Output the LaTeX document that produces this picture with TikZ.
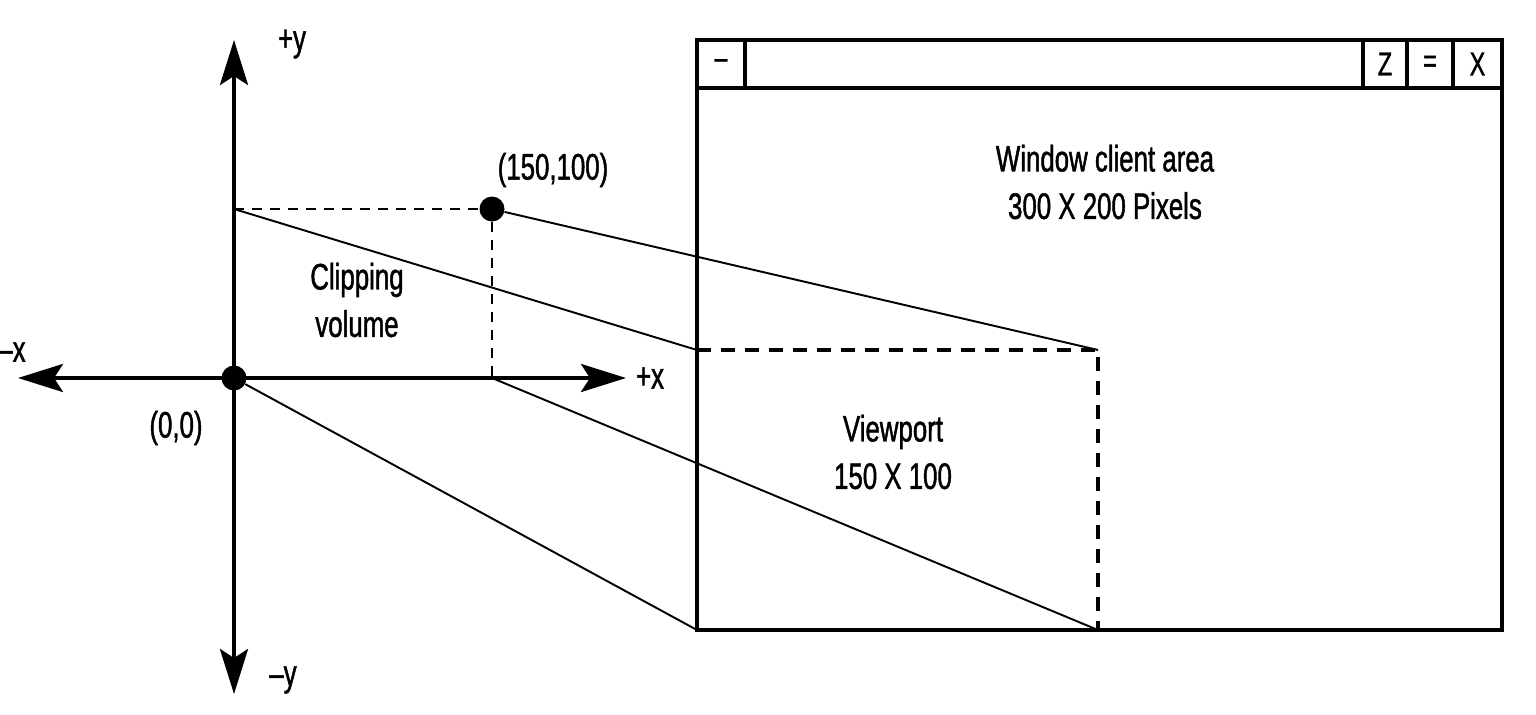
\documentclass[tikz,border=0pt]{standalone}
\usepackage{fontspec}
\setmainfont{Liberation Sans}[FakeStretch=0.70, FakeBold=1.2]
\usetikzlibrary{arrows.meta, positioning}

\begin{document}
\begin{tikzpicture}[
    x=0.02cm, y=-0.02cm,
    >={Stealth[length=0.9cm, width=0.56cm, inset=0.18cm]},
    axis/.style={line width=2.3pt, <->},
    dot/.style={circle, fill=black, inner sep=0pt, minimum size=0.5cm},
    frame/.style={draw, line width=2.3pt},
    btn/.style={draw, line width=2.3pt, minimum height=0.96cm, inner sep=0pt, outer sep=0pt, font=\fontsize{19}{22}\selectfont},
    proj/.style={line width=1.1pt},
    guide/.style={line width=1.1pt, dash pattern=on 0.2cm off 0.16cm},
    view/.style={line width=2.3pt, dash pattern=on 0.28cm off 0.2cm},
    txt/.style={align=center, font=\fontsize{21}{27}\selectfont, inner sep=0pt}
]
    \useasboundingbox (0,0) rectangle (1536,714);

    % Axes
    \coordinate (ytop) at (234,40);
    \coordinate (ybot) at (234,694);
    \coordinate (xleft) at (18,378);
    \coordinate (xright) at (626,378);
    \draw[axis] (ybot) -- (ytop);
    \draw[axis] (xleft) -- (xright);
    \node[txt] (lyp) at (292,44) {+y};
    \node[txt] (lym) at (283,680) {\textendash y};
    \node[txt] (lxm) at (12,352) {\textendash x};
    \node[txt] (lxp) at (650,378) {+x};

    % Points
    \node[dot] (orig) at (234,378) {};
    \node[dot] (pt) at (492,209) {};
    \coordinate (ytick) at (234,209);
    \coordinate (xtick) at (492,378);
    \node[txt] (lorig) at (176,428) {(0,0)};
    \node[txt] (lpt) at (553,170) {(150,100)};
    \node[txt] (clip) at (357,300) {Clipping\\volume};
    \draw[guide] (ytick) -- (pt);
    \draw[guide] (pt) -- (xtick);

    % Window
    \coordinate (wtl) at (697,40);
    \coordinate (wbr) at (1502,630);
    \coordinate (tbar) at (1502,88);
    \draw[frame] (wtl) rectangle (wbr);
    \draw[frame] (wtl) rectangle (tbar);
    \node[btn, minimum width=0.96cm, anchor=north west] (bmin) at (wtl) {\textendash};
    \node[btn, minimum width=0.98cm, anchor=north east] (bx) at (1502,40) {X};
    \node[btn, minimum width=0.92cm, anchor=north east] (beq) at (bx.north west) {=};
    \node[btn, minimum width=0.88cm, anchor=north east] (bz) at (beq.north west) {Z};
    \node[txt] (client) at (1105,182) {Window client area\\300 X 200 Pixels};

    % Viewport
    \coordinate (vtl) at (697,350);
    \coordinate (vtr) at (1098,350);
    \coordinate (vbr) at (1098,630);
    \coordinate (vbl) at (697,630);
    \draw[view] (vtl) -- (vtr) -- (vbr);
    \node[txt] (vp) at (893,452) {Viewport\\150 X 100};

    % Projection lines
    \draw[proj] (ytick) -- (vtl);
    \draw[proj] (pt) -- (vtr);
    \draw[proj] (orig) -- (vbl);
    \draw[proj] (xtick) -- (vbr);
\end{tikzpicture}
\end{document}
